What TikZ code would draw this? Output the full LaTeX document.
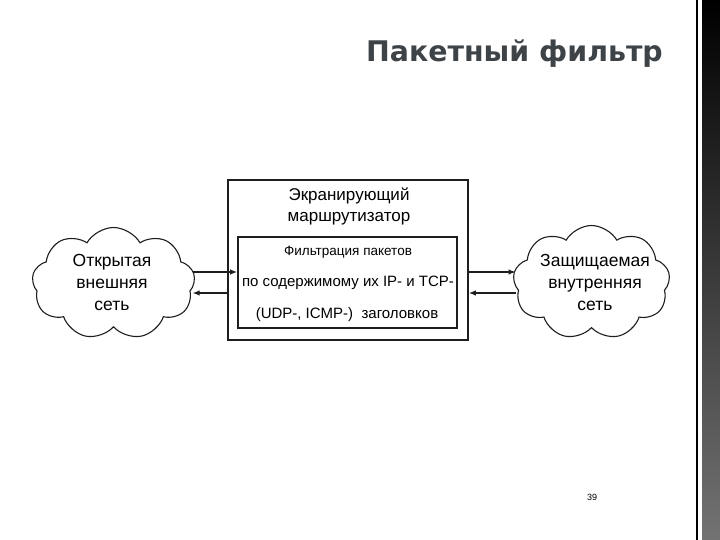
\documentclass[tikz,border=0pt]{standalone}
\usepackage{fontspec}
\setmainfont{Liberation Sans}
\newfontfamily\titlefont{DejaVu Sans}
\usetikzlibrary{shapes.symbols,arrows.meta}
\definecolor{ink}{HTML}{1E1E1E}
\definecolor{titlegray}{HTML}{3E4347}
\tikzset{
  box/.style={draw=ink, line width=1.6pt, inner sep=0pt},
  netcloud/.style={cloud, draw=ink, line width=1.1pt, cloud puffs=9, cloud puff arc=120, aspect=1.5, inner sep=0pt},
  arr/.style={draw=ink, line width=1.3pt, -{Latex[length=7pt,width=5.5pt]}},
  big/.style={font=\fontsize{17}{21}\selectfont, align=center, inner sep=0pt},
  mid/.style={font=\fontsize{15}{18}\selectfont, inner sep=0pt},
}
\begin{document}
\begin{tikzpicture}[x=1pt,y=-1pt]
\useasboundingbox (0,0) rectangle (720,540);
\fill[white] (0,0) rectangle (720,540);
% right decorative strip
\shade[top color=black, bottom color=black!55] (702,0) rectangle (720,540);
\draw[line width=1.6pt, black] (697,0) -- (697,540);
% title
\node[anchor=base east, inner sep=0pt, text=titlegray, font=\titlefont\bfseries\fontsize{28.4}{30}\selectfont] (title) at (663,62) {Пакетный фильтр};
% boxes
\node[box, minimum width=240pt, minimum height=160pt] (ob) at (348,260) {};
\node[box, minimum width=219pt, minimum height=91pt] (ib) at (347.5,282.5) {};
\node[big] (rt) at (349,206.5) {Экранирующий\\маршрутизатор};
\node[mid, font=\fontsize{13.5}{16}\selectfont] (l1) at (348,252) {Фильтрация пакетов};
\node[mid] (l2) at (348,283) {по содержимому их IP- и TCP-};
\node[mid] (l3) at (347,315) {(UDP-, ICMP-)\ \ заголовков};
% clouds
\node[netcloud, minimum width=163pt, minimum height=112pt] (lc) at (113.5,283.5) {};
\node[netcloud, minimum width=157pt, minimum height=114pt] (rc) at (591.5,282.5) {};
\node[big, font=\fontsize{17.5}{22}\selectfont] (lct) at (112,282) {Открытая\\внешняя\\сеть};
\node[big, font=\fontsize{17.5}{22}\selectfont] (rct) at (595,282) {Защищаемая\\внутренняя\\сеть};
% arrows
\coordinate (ya) at (0,272);
\coordinate (yb) at (0,293);
\draw[arr] ([xshift=-2pt]lc.east |- ya) -- (ib.west |- ya);
\draw[arr] (ob.west |- yb) -- ([xshift=-2pt]lc.east |- yb);
\draw[arr] (ob.east |- ya) -- ([xshift=2pt]rc.west |- ya);
\draw[arr] ([xshift=2pt]rc.west |- yb) -- (ob.east |- yb);
% page number
\node[inner sep=0pt, font=\fontsize{9}{10}\selectfont] (pg) at (592,497) {39};
\end{tikzpicture}
\end{document}
